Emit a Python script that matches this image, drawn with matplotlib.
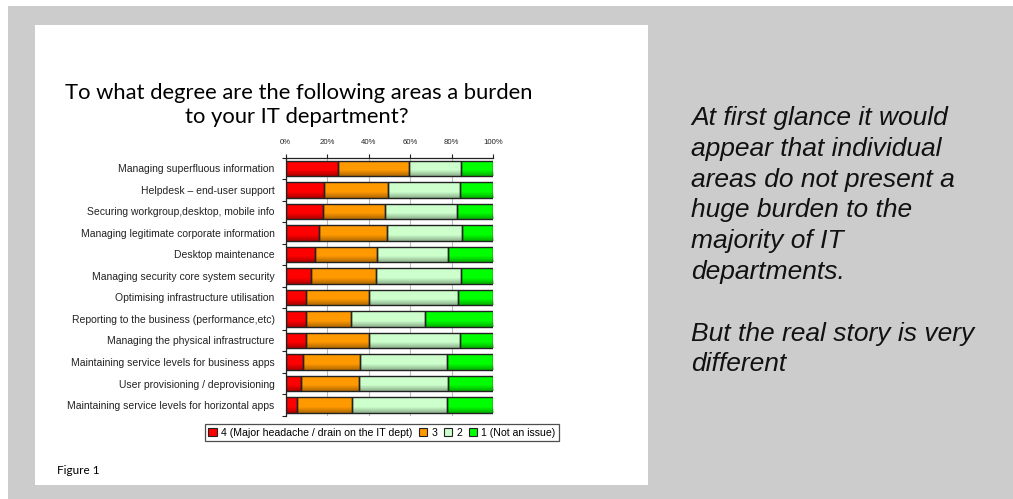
import numpy as np
import matplotlib
matplotlib.use("Agg")
import matplotlib.pyplot as plt
from matplotlib.patches import Rectangle

# ---------------- data ----------------
categories = [
    "Managing superfluous information",
    "Helpdesk \u2013 end-user support",
    "Securing workgroup,desktop, mobile info",
    "Managing legitimate corporate information",
    "Desktop maintenance",
    "Managing security core system security",
    "Optimising infrastructure utilisation",
    "Reporting to the business (performance,etc)",
    "Managing the physical infrastructure",
    "Maintaining service levels for business apps",
    "User provisioning / deprovisioning",
    "Maintaining service levels for horizontal apps",
]
score4 = [25.0, 18.5, 18.0, 16.0, 14.0, 12.0, 10.0, 10.0, 10.0, 8.5, 7.5, 5.5]
score3 = [34.5, 31.0, 30.0, 33.0, 30.0, 31.5, 30.0, 21.5, 30.0, 27.5, 28.0, 26.5]
score2 = [25.0, 34.5, 34.5, 36.0, 34.0, 41.0, 43.0, 35.5, 44.0, 41.5, 42.5, 45.5]
score1 = [15.5, 16.0, 17.5, 15.0, 22.0, 15.5, 17.0, 33.0, 16.0, 22.5, 22.0, 22.5]
series_labels = ["4 (Major headache / drain on the IT dept)", "3", "2", "1 (Not an issue)"]
series_colors = ["#FF0000", "#FF9900", "#CCFFCC", "#00FF00"]
xticks = [0, 20, 40, 60, 80, 100]
xtick_labels = ["0%", "20%", "40%", "60%", "80%", "100%"]

title_lines = ["To what degree are the following areas a burden", "to your IT department?"]
side_lines = ["At first glance it would", "appear that individual", "areas do not present a",
              "huge burden to the", "majority of IT", "departments.", "",
              "But the real story is very", "different"]

# ---------------- figure ----------------
W, H = 1013, 499
fig = plt.figure(figsize=(W / 100, H / 100), dpi=100)
fig.patch.set_facecolor("white")

def fx(px):
    return px / W

def fy(py):
    return 1 - py / H

# grey backdrop and white slide panel
fig.add_artist(Rectangle((fx(8), 0), 1 - fx(8), fy(6), transform=fig.transFigure,
                         facecolor="#CCCCCC", edgecolor="none", zorder=-2))
fig.add_artist(Rectangle((fx(35), fy(485)), fx(648 - 35), (485 - 25) / H,
                         transform=fig.transFigure, facecolor="white", edgecolor="none", zorder=-1))

# axes
ax_l, ax_r, ax_t, ax_b = 285.7, 493.3, 157.6, 415.8
ax = fig.add_axes([fx(ax_l), fy(ax_b), fx(ax_r - ax_l), (ax_b - ax_t) / H])
ax.set_facecolor("none")
ax.set_zorder(1)

y = np.arange(len(categories))
series = [score4, score3, score2, score1]
left = np.zeros(len(categories))
bh = 0.71
grad_alpha = np.concatenate([np.zeros(30), np.linspace(0, 0.32, 20)])
grad = np.zeros((len(grad_alpha), 1, 4))
grad[:, 0, 3] = grad_alpha
for vals, col in zip(series, series_colors):
    vals = np.array(vals)
    bars = ax.barh(y, vals, left=left, height=bh, color=col, edgecolor="none", zorder=2)
    for p in bars.patches:
        x0, y0, w, h = p.get_x(), p.get_y(), p.get_width(), p.get_height()
        ax.imshow(grad, extent=[x0, x0 + w, y0 + h, y0], origin="upper",
                  aspect="auto", zorder=2.5, interpolation="bilinear")
    ax.barh(y, vals, left=left, height=bh, facecolor="none", edgecolor="#222222",
            linewidth=1.0, zorder=3)
    left += vals

ax.set_xlim(0, 100)
ax.set_ylim(len(categories) - 0.5, -0.5)
ax.set_aspect("auto")

ax.xaxis.tick_top()
ax.set_xticks(xticks)
ax.set_xticklabels(xtick_labels, fontsize=5.6, family="Liberation Sans", color="#222222")
ax.tick_params(axis="x", length=3, width=0.8, pad=5, colors="#222222")
ax.set_yticks(y)
ax.set_yticklabels(categories, fontsize=7.5, family="Liberation Sans", color="#222222")
ax.tick_params(axis="y", length=0, pad=8)
ax.set_yticks(np.arange(len(categories) + 1) - 0.5, minor=True)
ax.tick_params(axis="y", which="minor", length=3, width=0.8, colors="#222222")
ax.grid(axis="x", color="#BBBBBB", linewidth=0.8, zorder=0)
ax.set_axisbelow(True)
for s in ["right", "bottom"]:
    ax.spines[s].set_visible(False)
ax.spines["left"].set_color("#222222")
ax.spines["top"].set_color("#222222")
ax.spines["left"].set_linewidth(0.9)
ax.spines["top"].set_linewidth(0.9)
ax.axhline(len(categories) - 0.5, color="#BBBBBB", linewidth=0.8, zorder=0)

# legend
handles = [Rectangle((0, 0), 1, 1, facecolor=c, edgecolor="#222222", linewidth=0.8)
           for c in series_colors]
leg = fig.legend(handles, series_labels, loc="center", bbox_to_anchor=(fx(382), fy(432.5)),
                 ncol=4, frameon=True, fancybox=False,
                 prop={"family": "Liberation Sans", "size": 7.6},
                 handlelength=0.8, handleheight=0.8, handletextpad=0.4,
                 columnspacing=0.6, borderpad=0.35, borderaxespad=0)
leg.get_frame().set_edgecolor("#222222")
leg.get_frame().set_linewidth(0.9)

# title
fig.text(fx(299), fy(99), title_lines[0], ha="center", va="baseline",
         fontsize=15.8, family="Lato", color="black")
fig.text(fx(297), fy(123), title_lines[1], ha="center", va="baseline",
         fontsize=15.8, family="Lato", color="black")

# figure caption
fig.text(fx(57), fy(474), "Figure 1", ha="left", va="baseline", fontsize=8.5,
         family="Lato", color="black")

# side commentary
base0 = 125.0
step = 30.8
for i, line in enumerate(side_lines):
    if line:
        fig.text(fx(691), fy(base0 + i * step), line, ha="left", va="baseline",
                 fontsize=19, family="Liberation Sans", style="italic", color="#111111")

fig.savefig("out.png", dpi=100)
